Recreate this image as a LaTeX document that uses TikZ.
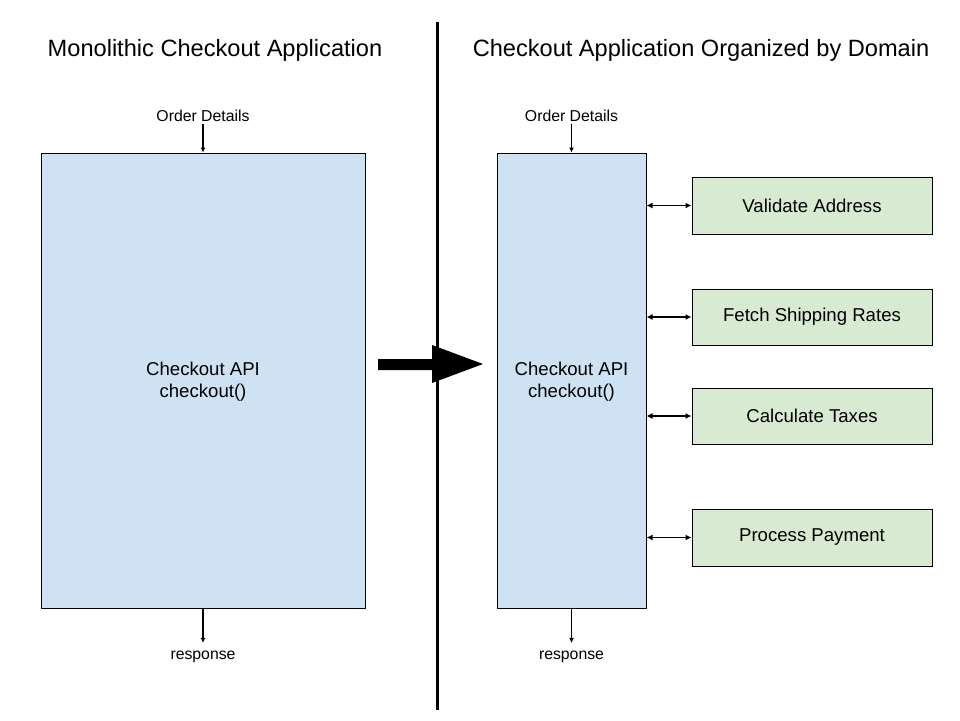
\documentclass[tikz,border=0pt]{standalone}
\usepackage{fontspec}
\setmainfont{Liberation Sans}
\usetikzlibrary{arrows.meta}
\definecolor{boxblue}{HTML}{CFE2F3}
\definecolor{boxgreen}{HTML}{D9EAD3}
\tikzset{
  titletext/.style={font=\fontsize{23.6}{28}\selectfont, inner sep=0pt},
  smalltext/.style={font=\fontsize{15.8}{19}\selectfont, inner sep=2pt},
  apibox/.style={draw=black, line width=1pt, fill=boxblue, font=\fontsize{18.6}{22}\selectfont, align=center, inner sep=0pt, text depth=-4pt},
  domainbox/.style={draw=black, line width=1pt, fill=boxgreen, font=\fontsize{18.6}{22}\selectfont, inner sep=0pt, minimum width=240pt},
  flow/.style={line width=1.2pt, -{Latex[length=5pt,width=5pt]}},
  dflow/.style={line width=1.2pt, {Latex[length=6pt,width=6pt]}-{Latex[length=6pt,width=6pt]}},
  divider/.style={line width=3pt},
  bigarrow/.style={fill=black, draw=none}
}
\begin{document}
\begin{tikzpicture}[x=1pt,y=-1pt]
\useasboundingbox (0,0) rectangle (960,720);
% titles
\node[titletext] (t1) at (215,50) {Monolithic Checkout Application};
\node[titletext] (t2) at (701,50) {Checkout Application Organized by Domain};
% divider
\coordinate (dtop) at (437,22);
\coordinate (dbot) at (437,710);
\draw[divider] (dtop) -- (dbot);
% left box
\node[apibox, minimum width=324pt, minimum height=455pt] (box1) at (203,380.5) {};
\node[font=\fontsize{18.6}{22}\selectfont, align=center, inner sep=0pt] (lab1) at (203,382) {Checkout API\\checkout()};
\node[smalltext] (od1) at (203,116) {Order Details};
\node[smalltext] (resp1) at (203,657) {response};
\draw[flow] (od1.south) -- (box1.north);
\draw[flow, shorten >=6pt] (box1.south) -- (resp1.north);
% right box
\node[apibox, minimum width=149pt, minimum height=455pt] (box2) at (571.5,380.5) {};
\node[font=\fontsize{18.6}{22}\selectfont, align=center, inner sep=0pt] (lab2) at (571.5,382) {Checkout API\\checkout()};
\node[smalltext] (od2) at (571.5,116) {Order Details};
\node[smalltext] (resp2) at (571.5,657) {response};
\draw[flow] (od2.south) -- (box2.north);
\draw[flow, shorten >=6pt] (box2.south) -- (resp2.north);
% domain boxes
\node[domainbox, minimum height=57pt] (g1) at (812,205.5) {Validate Address};
\node[domainbox, minimum height=56pt] (g2) at (812,317) {Fetch Shipping Rates};
\node[domainbox, minimum height=56pt] (g3) at (812,416) {Calculate Taxes};
\node[domainbox, minimum height=57pt] (g4) at (812,537.5) {Process Payment};
\draw[dflow] (box2.east |- g1.west) -- (g1.west);
\draw[dflow] (box2.east |- g2.west) -- (g2.west);
\draw[dflow] (box2.east |- g3.west) -- (g3.west);
\draw[dflow] (box2.east |- g4.west) -- (g4.west);
% big arrow
\fill[bigarrow] (378,359) -- (432,359) -- (432,345) -- (483,364) -- (432,383) -- (432,370) -- (378,370) -- cycle;
\end{tikzpicture}
\end{document}
